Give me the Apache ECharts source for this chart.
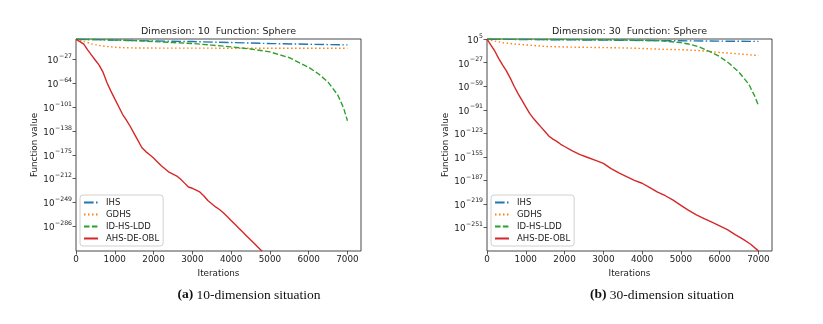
<!DOCTYPE html>
<html>
<head>
<meta charset="utf-8">
<script src="https://cdn.jsdelivr.net/npm/echarts@6/dist/echarts.min.js"></script>
<style>
html,body{margin:0;padding:0;background:#fff;}
#c{width:823px;height:324px;}
</style>
</head>
<body>
<div id="c"></div>
<script>
// ---- tick labels ----
const xTicks = [0, 1000, 2000, 3000, 4000, 5000, 6000, 7000];
const yTicks10 = [-27, -64, -101, -138, -175, -212, -249, -286];   // exponents of 10
const yTicks30 = [5, -27, -59, -91, -123, -155, -187, -219, -251];

const seriesNames = ['IHS', 'GDHS', 'ID-HS-LDD', 'AHS-DE-OBL'];
const titles = ['Dimension: 10  Function: Sphere', 'Dimension: 30  Function: Sphere'];
const captionTags = ['(a)', '(b)'];
const captionTexts = ['10-dimension situation', '30-dimension situation'];

// ---- Dimension 10 (values are log10 of function value) ----
const ihs10_it = [0, 500, 1000, 2000, 3000, 4000, 5000, 6000, 7000];
const ihs10_v  = [4.5, 4, 3.2, 2, 1, -0.5, -2, -3.2, -4.2];
const gdhs10_it = [0, 100, 200, 300, 400, 500, 600, 800, 1000, 1200, 1500, 2000, 3000, 4000, 5000, 6000, 7000];
const gdhs10_v  = [4.5, 3, 1, -0.5, -2.5, -3.8, -5, -6.7, -7.8, -8.4, -8.9, -9.1, -9.2, -9.3, -9.4, -9.4, -9.5];
const ldd10_it = [0, 500, 1000, 1500, 2000, 2500, 3000, 3500, 4000, 4500, 5000, 5500, 6000, 6250, 6500, 6750, 6900, 7000];
const ldd10_v  = [4.5, 4.2, 3.5, 2.5, 1, -0.5, -2, -4.5, -7.2, -10.5, -15, -24, -39, -49, -62, -82, -102, -122];
const obl10_it = [0,100,200,300,400,500,600,700,800,900,1000,1100,1200,1300,1400,1500,1600,1700,1800,1900,2000,2100,2200,2300,2400,2500,2600,2700,2800,2900,3000,3100,3200,3300,3400,3500,3600,3700,3800,3900,4000,4100,4200,4300,4400,4500,4600,4700,4800];
const obl10_v  = [4.5,1,-3,-12,-20,-28,-36,-47,-63,-76,-88,-100,-112,-121,-131,-142,-153,-164,-170,-175,-180,-186,-192,-197,-202,-205,-208,-213,-219,-225,-227,-230,-233,-239,-246,-251,-256,-260,-265,-271,-277,-283,-289,-295,-301,-307,-313,-319,-325];

// ---- Dimension 30 ----
const ihs30_it = [0, 1000, 2000, 3000, 4000, 5000, 6000, 7000];
const ihs30_v  = [5, 4.6, 4.2, 3.8, 3.3, 2.9, 2.4, 2];
const gdhs30_it = [0, 200, 400, 700, 1000, 1500, 2000, 2500, 3000, 3500, 4000, 4500, 5000, 5500, 6000, 6500, 7000];
const gdhs30_v  = [5, 2.5, 0.3, -1.4, -2.7, -4.8, -5.6, -6, -6.4, -6.8, -7.6, -8.7, -9.2, -10.5, -13, -15, -17.2];
const ldd30_it = [0, 1000, 2000, 3000, 3500, 4000, 4500, 5000, 5250, 5500, 5750, 6000, 6250, 6500, 6750, 6900, 7000];
const ldd30_v  = [5, 4.8, 4.5, 4.2, 4, 3.5, 2.8, 0.3, -2, -6, -12, -18.6, -28, -40, -56, -72, -85];
const obl30_it = [0,100,200,300,400,500,600,700,800,900,1000,1100,1200,1300,1400,1500,1600,1700,1800,1900,2000,2200,2400,2600,2800,3000,3200,3400,3600,3800,4000,4200,4400,4600,4800,5000,5200,5400,5600,5800,6000,6200,6400,6600,6800,7000];
const obl30_v  = [5,-3,-11,-21,-30,-38,-48,-59,-69,-78,-87,-96,-103,-109,-115,-121,-127,-131,-134,-138,-141,-147,-152,-156,-160,-164,-171,-177,-182,-187,-191,-197,-203,-208,-214,-221,-228,-234,-239,-244,-249,-254,-261,-267,-274,-283];

const colors = ['#1f77b4', '#ff7f0e', '#2ca02c', '#d62728'];
const dashes = [[9.6, 2.4, 1.5, 2.4], [1.5, 2.5], [5.5, 2.4], 'solid'];

const FONT = 'DejaVu Sans';
const chart = echarts.init(document.getElementById('c'), null, {renderer: 'canvas'});

function pairs(it, v) { return it.map((x, i) => [x, v[i]]); }
function expLabel(v) {
  const s = v < 0 ? '\u2212' + (-v) : String(v);
  return '{b|10}{s|' + s + '}';
}

const grids = [
  {left: 76, top: 39, width: 285, height: 212},
  {left: 487, top: 39, width: 285, height: 212}
];
const yRanges = [[-324.5, 5], [-283.2, 5.3]];
const yTicks = [yTicks10, yTicks30];
const dataSets = [
  [[ihs10_it, ihs10_v], [gdhs10_it, gdhs10_v], [ldd10_it, ldd10_v], [obl10_it, obl10_v]],
  [[ihs30_it, ihs30_v], [gdhs30_it, gdhs30_v], [ldd30_it, ldd30_v], [obl30_it, obl30_v]]
];

const xAxes = [], yAxes = [], series = [], legends = [], graphics = [];
for (let g = 0; g < 2; g++) {
  xAxes.push({
    type: 'value', gridIndex: g, min: 0, max: 7350, position: 'bottom',
    name: 'Iterations', nameLocation: 'middle', nameGap: 14,
    nameTextStyle: {fontFamily: FONT, fontSize: 8.8, color: '#222'},
    axisLine: {show: false, onZero: false},
    axisTick: {show: true, length: 3.5, lineStyle: {color: '#333', width: 0.8}, customValues: xTicks},
    axisLabel: {fontFamily: FONT, fontSize: 8.8, color: '#222', margin: 4, customValues: xTicks,
                formatter: v => String(v)},
    splitLine: {show: false}
  });
  yAxes.push({
    type: 'value', gridIndex: g, min: yRanges[g][0], max: yRanges[g][1], position: 'left',
    name: 'Function value', nameLocation: 'middle', nameGap: 31, nameRotate: 90,
    nameTextStyle: {fontFamily: FONT, fontSize: 8.8, color: '#222'},
    axisLine: {show: false, onZero: false},
    axisTick: {show: true, length: 3.5, lineStyle: {color: '#333', width: 0.8}, customValues: yTicks[g]},
    axisLabel: {
      margin: 4, customValues: yTicks[g],
      formatter: expLabel,
      rich: {
        b: {fontFamily: FONT, fontSize: 8.8, color: '#222', lineHeight: 12, verticalAlign: 'bottom'},
        s: {fontFamily: FONT, fontSize: 6.2, color: '#222', lineHeight: 6.5, verticalAlign: 'top', padding: [0, 0, 0, 0.5]}
      }
    },
    splitLine: {show: false}
  });
  for (let s = 0; s < 4; s++) {
    const d = dataSets[g][s];
    series.push({
      name: seriesNames[s], type: 'line', xAxisIndex: g, yAxisIndex: g,
      data: pairs(d[0], d[1]),
      symbol: 'none', showSymbol: false, smooth: false, clip: true,
      lineStyle: {color: colors[s], width: 1.4, type: dashes[s]},
      itemStyle: {color: colors[s]},
      emphasis: {disabled: true},
      animation: false
    });
  }
  legends.push({
    orient: 'vertical', left: grids[g].left + 4, top: 195,
    itemWidth: 14, itemHeight: 8, itemGap: 3,
    padding: [3, 4, 3, 3],
    backgroundColor: '#fff', borderColor: '#d0d0d0', borderWidth: 1, borderRadius: 3,
    itemStyle: {color: 'rgba(0,0,0,0)', borderColor: 'rgba(0,0,0,0)', borderWidth: 0},
    textStyle: {fontFamily: FONT, fontSize: 8.5, color: '#222', padding: [0, 0, 0, 3]},
    data: seriesNames.slice(),
    selectedMode: false
  });
  const cx = grids[g].left + grids[g].width / 2;
  graphics.push({
    type: 'text', x: cx, y: 31.5,
    style: {text: titles[g], font: '9.5px "DejaVu Sans"', fill: '#222', textAlign: 'center', textVerticalAlign: 'middle'}
  });
  graphics.push({
    type: 'text', x: [249, 662][g], y: 295,
    style: {
      text: '{b|' + captionTags[g] + '} {n|' + captionTexts[g] + '}',
      textAlign: 'center', textVerticalAlign: 'middle',
      rich: {
        b: {fontFamily: 'Liberation Serif', fontSize: 13.5, fontWeight: 'bold', fill: '#111'},
        n: {fontFamily: 'Liberation Serif', fontSize: 13.5, fill: '#111'}
      }
    }
  });
}

chart.setOption({
  animation: false,
  backgroundColor: '#fff',
  grid: grids.map(g => Object.assign({show: true, borderColor: '#333', borderWidth: 0.9, backgroundColor: 'transparent', containLabel: false}, g)),
  xAxis: xAxes,
  yAxis: yAxes,
  legend: legends,
  series: series,
  graphic: graphics
});
</script>
</body>
</html>
